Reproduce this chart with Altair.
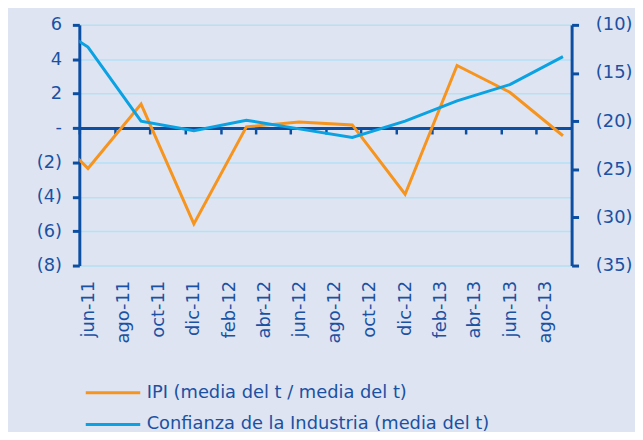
import json
import altair as alt
import pandas as pd

# ---- data (quarterly, Spain) ----
fechas = ["2011-03-01", "2011-06-01", "2011-09-01", "2011-12-01", "2012-03-01",
          "2012-06-01", "2012-09-01", "2012-12-01", "2013-03-01", "2013-06-01",
          "2013-09-01"]
ipi = [0.7, -2.35, 1.39, -5.58, 0.07, 0.35, 0.18, -3.85, 3.64, 2.08, -0.45]
confianza = [-8.8, -12.3, -20.0, -21.0, -19.9, -20.8, -21.7, -20.0, -17.9, -16.2, -13.3]
series = ["IPI (media del t / media del t)", "Confianza de la Industria (media del t)"]
meses = ["ene", "feb", "mar", "abr", "may", "jun", "jul", "ago", "sep", "oct", "nov", "dic"]
meses_etiqueta = [(2011, 6), (2011, 8), (2011, 10), (2011, 12), (2012, 2), (2012, 4),
                  (2012, 6), (2012, 8), (2012, 10), (2012, 12), (2013, 2), (2013, 4),
                  (2013, 6), (2013, 8)]
eje_izq = [-8, -6, -4, -2, 0, 2, 4, 6]
eje_der = [-35, -30, -25, -20, -15, -10]

# ---- styles ----
NAVY = "#0B4EA2"
TEXT = "#1A51A3"
ORANGE = "#F7941D"
BLUE = "#0AA2E2"
GRID = "#B3E1F6"
BG = "#DEE4F1"
FONT = "DejaVu Sans"
H = 243

df_ipi = pd.DataFrame({"fecha": fechas, "valor": ipi, "serie": series[0]})
df_conf = pd.DataFrame({"fecha": fechas, "valor": confianza, "serie": series[1]})

dt = lambda y, m: alt.DateTime(year=y, month=m, date=1, utc=True)
x_domain = [dt(2011, 6), dt(2013, 10)]
tick_vals = [dt(y, m) for (y, m) in meses_etiqueta]

x_scale = alt.Scale(domain=x_domain)
month_expr = json.dumps(meses) + "[utcmonth(datum.value)] + '-' + utcFormat(datum.value, '%y')"

color = alt.Color(
    "serie:N",
    scale=alt.Scale(domain=series, range=[ORANGE, BLUE]),
    legend=alt.Legend(
        orient="none", legendX=22.5, legendY=360, direction="vertical", title=None,
        symbolType="M-2.75,0H2.75", symbolSize=400, symbolStrokeWidth=3,
        labelFontSize=18, labelColor=TEXT, labelFont=FONT, labelOffset=22.5,
        rowPadding=11, padding=0, labelLimit=600,
    ),
)

x_labels = alt.X(
    "fecha:T", timeUnit="utcyearmonth", bandPosition=0.5, scale=x_scale,
    axis=alt.Axis(
        orient="bottom",
        values=tick_vals, labelExpr=month_expr, labelAngle=270, labelOffset=9,
        labelPadding=15, labelFontSize=18, labelColor=TEXT, labelFont=FONT,
        ticks=False, domain=False, grid=False, title=None, labelOverlap=False,
    ),
)
# zero-line axis (ticks only), lifted from the bottom edge up to value 0
x_zero = alt.X(
    "fecha:T", timeUnit="utcyearmonth", bandPosition=0.5, scale=x_scale,
    axis=alt.Axis(
        orient="bottom",
        values=tick_vals, labels=False, domain=True, domainColor=NAVY, domainWidth=3,
        ticks=True, tickColor=NAVY, tickWidth=2.5, tickSize=6, grid=False, title=None,
        offset=-H * 8 / 14,
    ),
)

left = alt.Chart(df_ipi).mark_line(strokeWidth=3, clip=True).encode(
    x=x_zero,
    y=alt.Y(
        "valor:Q", scale=alt.Scale(domain=[-8, 6], nice=False, zero=False),
        axis=alt.Axis(
            values=eje_izq,
            labelExpr="datum.value > 0 ? datum.value : (datum.value == 0 ? '-' : '(' + abs(datum.value) + ')')",
            grid=True, gridColor=GRID, gridWidth=1.5,
            domainColor=NAVY, domainWidth=3, tickColor=NAVY, tickWidth=3, tickSize=7,
            labelPadding=11, labelFontSize=18, labelColor=TEXT, labelFont=FONT, title=None,
        ),
    ),
    color=color,
)

right = alt.Chart(df_conf).mark_line(strokeWidth=3, clip=True).encode(
    x=x_labels,
    y=alt.Y(
        "valor:Q", scale=alt.Scale(domain=[-35, -10], nice=False, zero=False),
        axis=alt.Axis(
            orient="right", values=eje_der, labelExpr="'(' + abs(datum.value) + ')'",
            grid=False, domainColor=NAVY, domainWidth=3, tickColor=NAVY, tickWidth=3,
            tickSize=7, labelPadding=17, labelFontSize=18, labelColor=TEXT, labelFont=FONT,
            title=None,
        ),
    ),
    color=color,
)

chart = (
    alt.layer(left, right)
    .resolve_scale(y="independent")
    .resolve_axis(x="independent", y="independent")
    .properties(
        width=497, height=H,
        padding={"left": 72, "top": 15, "right": 64, "bottom": 166},
        autosize=alt.AutoSizeParams(type="none"),
        background=BG,
    )
    .configure_view(stroke=None)
    .configure(font=FONT)
)

chart.save("out.html", embed_options={"renderer": "svg", "actions": False})
